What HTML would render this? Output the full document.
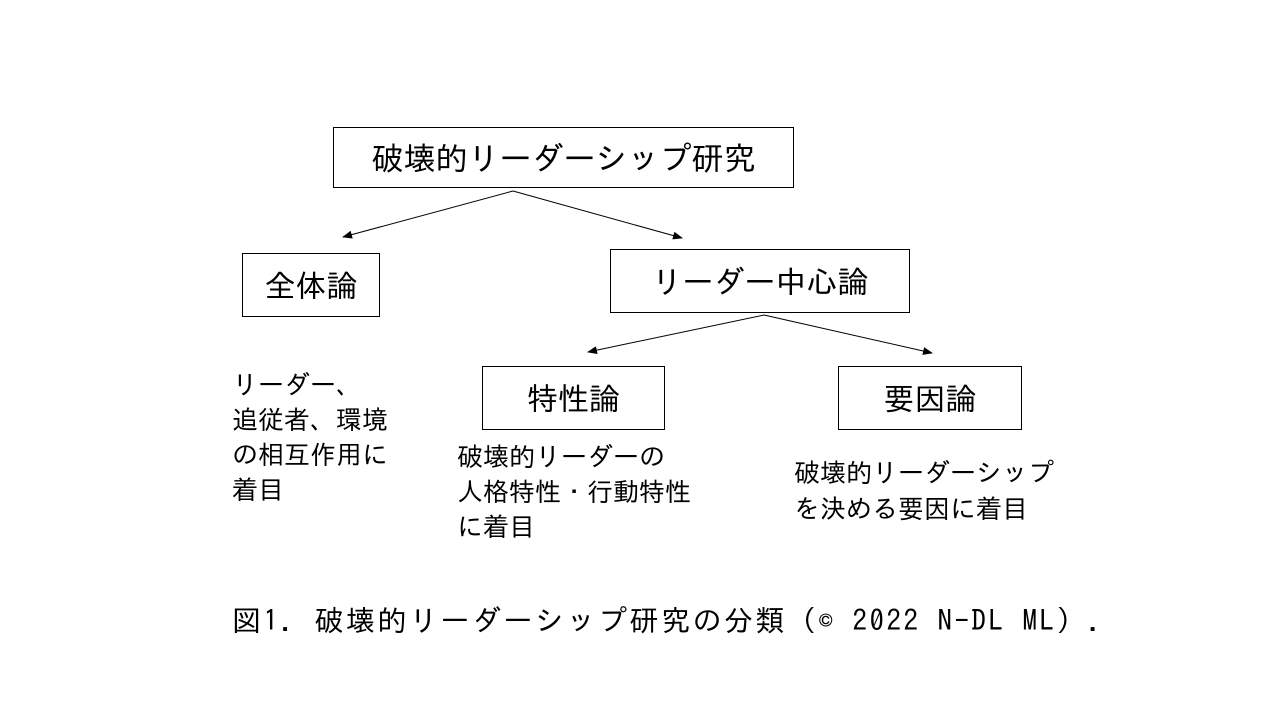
<!DOCTYPE html>
<html><head><meta charset="utf-8"><style>
body{margin:0;width:1280px;height:720px;background:#fff;position:relative;overflow:hidden;font-family:"IPAGothic","Liberation Sans","Noto Sans CJK JP",sans-serif;color:#000}
.b{position:absolute;border:1px solid #000;box-sizing:border-box;display:flex;align-items:center;justify-content:center;white-space:nowrap}
.t{position:absolute;white-space:nowrap;line-height:1.3}
</style></head><body>
<svg width="1280" height="720" style="position:absolute;left:0;top:0">
<defs><marker id="a" markerWidth="10" markerHeight="8" refX="9" refY="4" orient="auto" markerUnits="userSpaceOnUse"><path d="M0,0L10,4L0,8z" fill="#000"/></marker></defs>
<g stroke="#000" stroke-width="1" marker-end="url(#a)">
<line x1="513" y1="191" x2="343" y2="237"/>
<line x1="513" y1="191" x2="682" y2="238"/>
<line x1="764" y1="315" x2="588" y2="352"/>
<line x1="764" y1="315" x2="932" y2="353"/>
</g></svg>
<div class="b" style="left:333px;top:127px;width:461px;height:61px;font-size:32px">破壊的リーダーシップ研究</div>
<div class="b" style="left:242px;top:253px;width:138px;height:64px;font-size:31px">全体論</div>
<div class="b" style="left:610px;top:249px;width:300px;height:64px;font-size:31px">リーダー中心論</div>
<div class="b" style="left:482px;top:366px;width:183px;height:64px;font-size:31px">特性論</div>
<div class="b" style="left:838px;top:366px;width:184px;height:64px;font-size:31px">要因論</div>
<div class="t" style="left:232px;top:368px;font-size:26px;line-height:35px">リーダー、<br>追従者、環境<br>の相互作用に<br>着目</div>
<div class="t" style="left:457px;top:440px;font-size:26px;line-height:35px">破壊的リーダーの<br>人格特性・行動特性<br>に着目</div>
<div class="t" style="left:794px;top:455px;font-size:26px;line-height:36px">破壊的リーダーシップ<br>を決める要因に着目</div>
<div class="t" style="left:232px;top:602px;font-size:29px;letter-spacing:2.5px">図1. 破壊的リーダーシップ研究の分類（© 2022 N-DL ML）.</div>
</body></html>
